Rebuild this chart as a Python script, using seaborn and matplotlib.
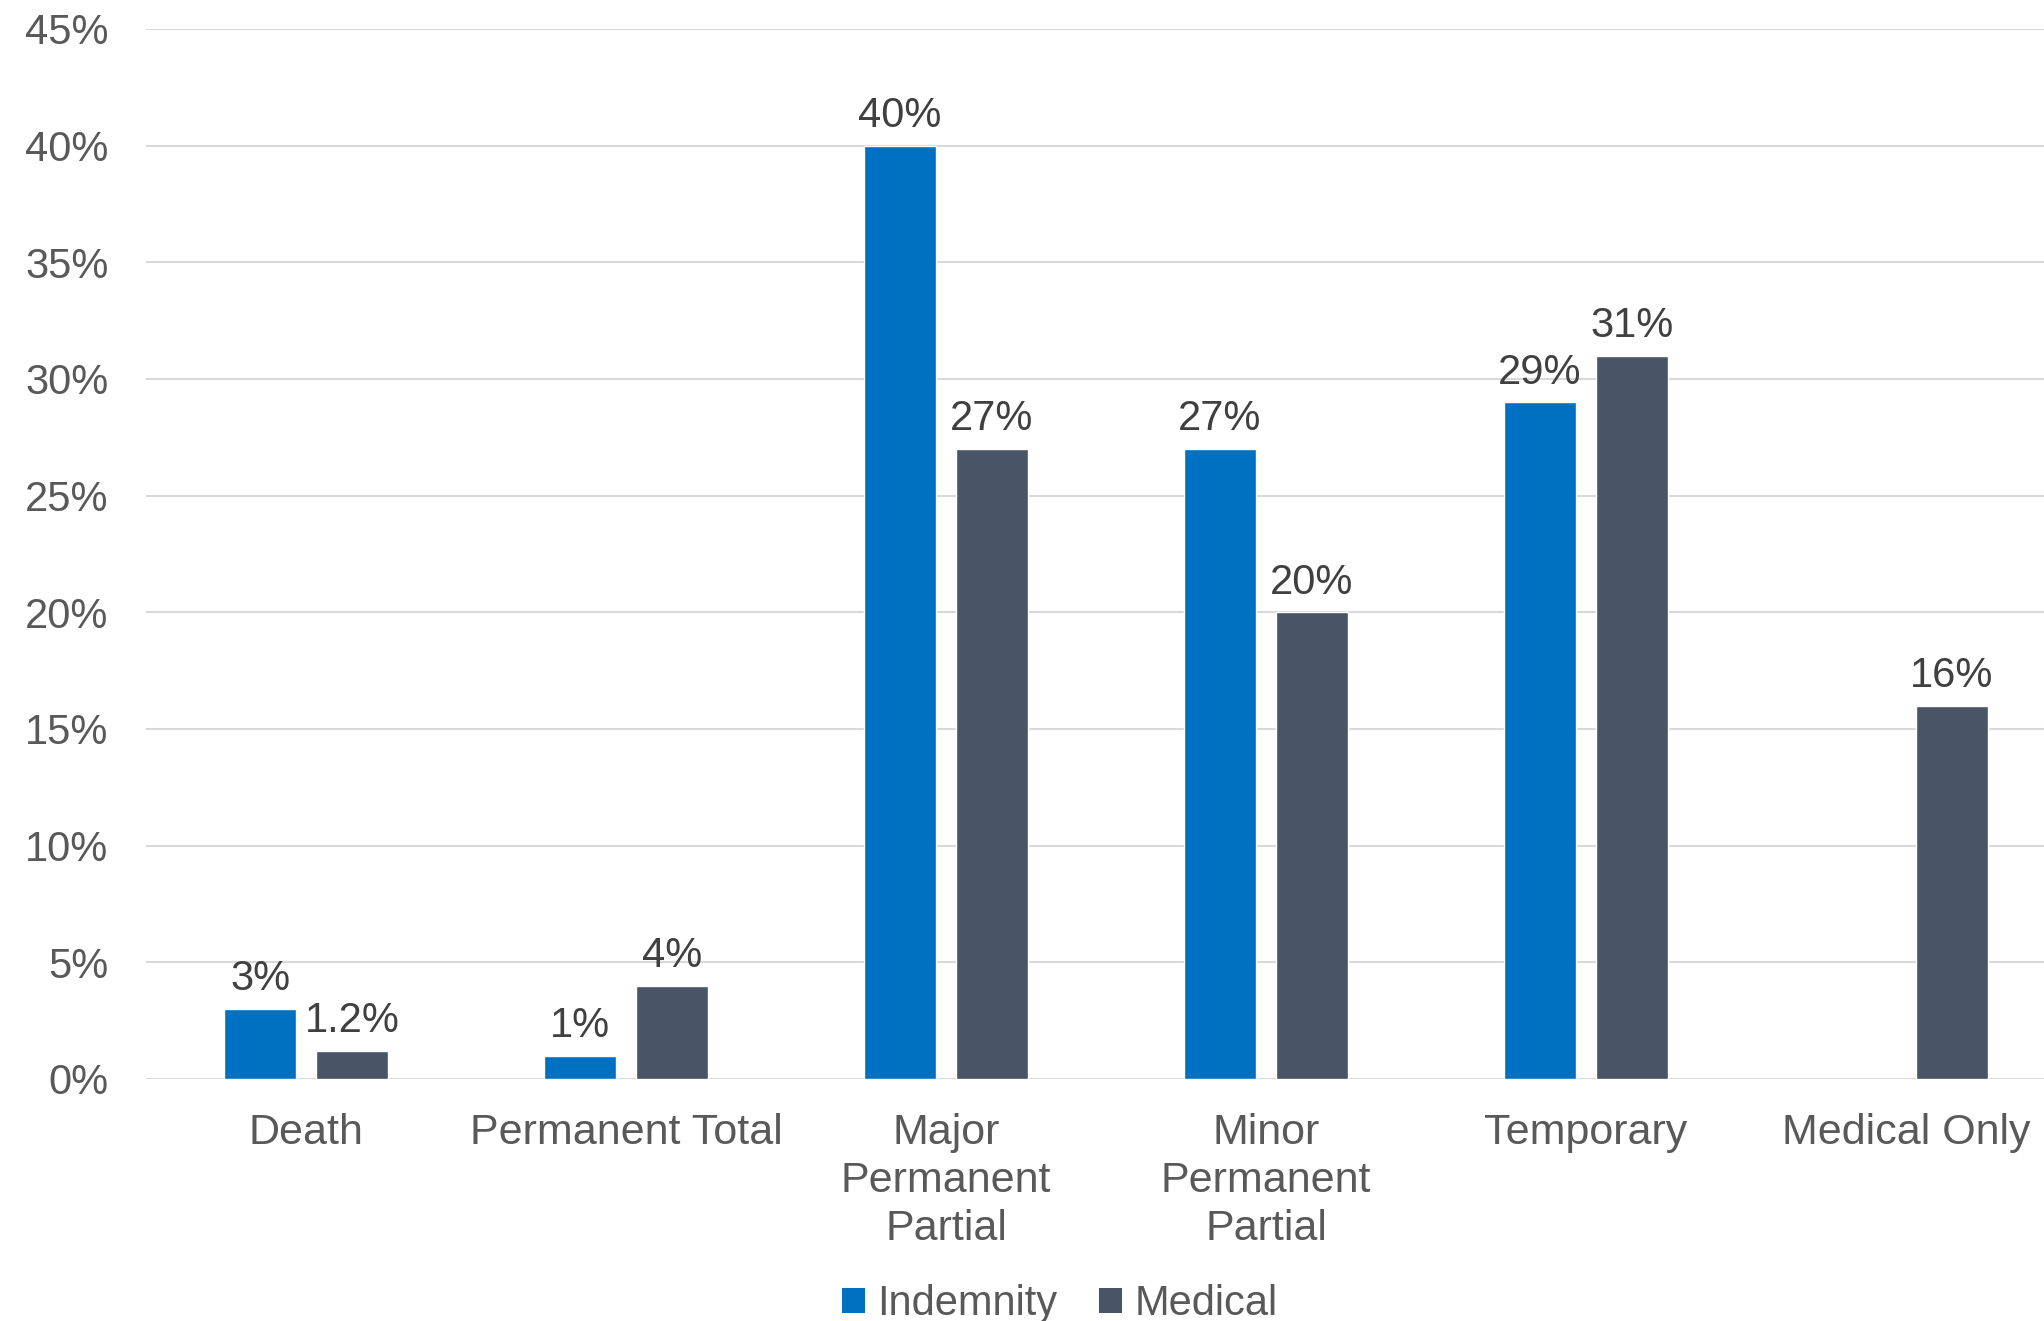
import matplotlib
matplotlib.use("Agg")
import matplotlib.pyplot as plt
import seaborn as sns
import pandas as pd
from matplotlib.patches import Patch

categories = ["Death", "Permanent Total", "Major\nPermanent\nPartial",
              "Minor\nPermanent\nPartial", "Temporary", "Medical Only"]
indemnity = [3, 1, 40, 27, 29, None]
medical = [1.2, 4, 27, 20, 31, 16]
series = ["Indemnity", "Medical"]
colors = {"Indemnity": "#0070C0", "Medical": "#495467"}
yticks = [0, 5, 10, 15, 20, 25, 30, 35, 40, 45]

rows = []
for cat, v in zip(categories, indemnity):
    if v is not None:
        rows.append({"Category": cat, "Series": "Indemnity", "Value": v})
for cat, v in zip(categories, medical):
    if v is not None:
        rows.append({"Category": cat, "Series": "Medical", "Value": v})
df = pd.DataFrame(rows)

sns.set_theme(style="white")
plt.rcParams["font.family"] = ["Liberation Sans", "DejaVu Sans"]

W, H = 2044, 1321
fig = plt.figure(figsize=(W / 100, H / 100), dpi=100)
# plot area runs slightly past the right edge of the canvas
ax = fig.add_axes([146 / W, 1 - 1079 / H, 1920 / W, (1079 - 29) / H])

sns.barplot(data=df, x="Category", y="Value", hue="Series", order=categories,
            hue_order=series, palette=colors, width=0.575, gap=0.214,
            saturation=1, errorbar=None, legend=False, ax=ax)

for cont in ax.containers:
    ax.bar_label(cont, fmt=lambda v: f"{v:g}%", padding=7,
                 fontsize=30, color="#404040")

ax.set_xlim(-0.5, len(categories) - 0.5)
ax.set_ylim(0, 45)
ax.set_yticks(yticks)
ax.set_yticklabels([f"{t}%" for t in yticks])
ax.yaxis.grid(True, color="#D9D9D9", linewidth=1.5)
ax.set_axisbelow(True)
for s in ax.spines.values():
    s.set_visible(False)
ax.tick_params(axis="y", length=0, pad=27, labelsize=30, labelcolor="#595959")
ax.tick_params(axis="x", length=0, pad=24.5, labelsize=31, labelcolor="#595959")
for lbl in ax.get_xticklabels():
    lbl.set_linespacing(1.26)
ax.set_xlabel("")
ax.set_ylabel("")

handles = [Patch(facecolor=colors[s], edgecolor="none", label=s) for s in series]
fig.legend(handles=handles, loc="center", ncol=2,
           bbox_to_anchor=(1060 / W, 1 - 1304 / H),
           frameon=False, fontsize=30, handlelength=0.55, handleheight=0.55,
           handletextpad=0.3, columnspacing=1.0, labelcolor="#595959")

fig.savefig("out.png", dpi=100)
